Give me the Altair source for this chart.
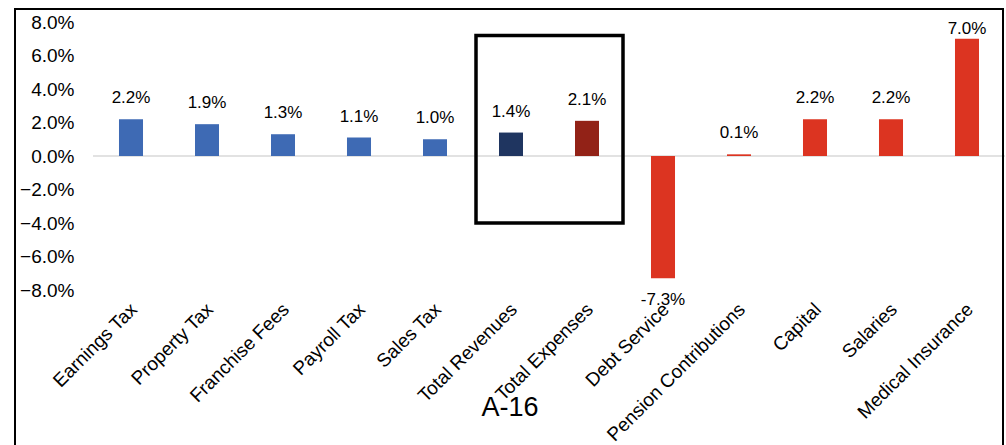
import altair as alt
import pandas as pd

# Year-over-year change by line item (percent)
categories = [
    "Earnings Tax", "Property Tax", "Franchise Fees", "Payroll Tax", "Sales Tax",
    "Total Revenues", "Total Expenses", "Debt Service", "Pension Contributions",
    "Capital", "Salaries", "Medical Insurance",
]
changes = [2.2, 1.9, 1.3, 1.1, 1.0, 1.4, 2.1, -7.3, 0.1, 2.2, 2.2, 7.0]
groups = (["Revenue"] * 5 + ["Total Revenues", "Total Expenses"] + ["Expense"] * 5)

group_names = ["Revenue", "Total Revenues", "Total Expenses", "Expense"]
group_colors = ["#3E6AB4", "#1F3560", "#922217", "#DC3421"]

y_ticks = [-8, -6, -4, -2, 0, 2, 4, 6, 8]

# Box around the two totals
box_categories = ["Total Revenues", "Total Expenses"]
box_range = [-4.0, 7.2]

page_label = "A-16"

FONT = "Liberation Sans"

df = pd.DataFrame({"category": categories, "change": changes, "group": groups})
df["label"] = [f"{v:.1f}%" for v in changes]

x_scale = alt.Scale(domain=categories, paddingInner=0.684, paddingOuter=0.342)
y_scale = alt.Scale(domain=[-8, 8], nice=False)

x_axis = alt.Axis(
    labelAngle=-45,
    labelAlign="right",
    labelBaseline="middle",
    labelFont=FONT,
    labelFontSize=19,
    labelColor="#000000",
    labelPadding=16,
    labelOffset=3,
    labelLimit=400,
    domain=False,
    ticks=False,
    grid=False,
)
y_axis = alt.Axis(
    values=y_ticks,
    labelExpr="format(datum.value, '.1f') + '%'",
    labelFont=FONT,
    labelFontSize=19,
    labelColor="#000000",
    labelPadding=19,
    domain=False,
    ticks=False,
    grid=False,
)

base = alt.Chart(df)

zero_line = alt.Chart(pd.DataFrame({"v": [0]})).mark_rule(
    color="#D9D9D9", strokeWidth=1.5
).encode(y=alt.Y("v:Q", scale=y_scale, axis=y_axis, title=None))

bars = base.mark_bar().encode(
    x=alt.X("category:N", scale=x_scale, title=None, axis=x_axis),
    y=alt.Y("change:Q", scale=y_scale, title=None, axis=y_axis),
    color=alt.Color(
        "group:N",
        scale=alt.Scale(domain=group_names, range=group_colors),
        legend=None,
    ),
)

labels = base.transform_calculate(
    label_pos="datum.change >= 0 ? min(datum.change + 1.25, 7.6) : datum.change - 1.3"
).mark_text(
    font=FONT, fontSize=17, color="#000000", baseline="middle", align="center"
).encode(
    x=alt.X("category:N", scale=x_scale, title=None, axis=x_axis),
    y=alt.Y("label_pos:Q", scale=y_scale, title=None, axis=y_axis),
    text="label:N",
)

# Outline spanning the two total columns, reaching out toward the band edges
box = alt.Chart(
    pd.DataFrame({
        "start": [box_categories[0]], "end": [box_categories[1]],
        "low": [box_range[0]], "high": [box_range[1]],
    })
).mark_rect(
    fillOpacity=0, stroke="#000000", strokeWidth=3.5, xOffset=-35, x2Offset=36
).encode(
    x=alt.X("start:N", scale=x_scale, bandPosition=0.5, title=None, axis=x_axis),
    x2=alt.X2("end:N", bandPosition=0.5),
    y=alt.Y("low:Q", scale=y_scale, title=None, axis=y_axis),
    y2="high:Q",
)

one_row = pd.DataFrame({"k": [0]})

frame = alt.Chart(one_row).mark_rect(
    fillOpacity=0, stroke="#000000", strokeWidth=2
).encode(
    x=alt.value(-78), x2=alt.value(910), y=alt.value(-13), y2=alt.value(440)
)

page = alt.Chart(one_row).mark_text(
    text=page_label, font=FONT, fontSize=27, color="#000000",
    align="center", baseline="alphabetic"
).encode(x=alt.value(417), y=alt.value(394))

chart = alt.layer(zero_line, bars, labels, box, frame, page).properties(
    width=912,
    height=268,
    padding={"left": 14, "top": 8, "right": 0, "bottom": 0},
).configure(background="#FFFFFF").configure_view(stroke=None)

chart.save("out.html", embed_options={"renderer": "svg", "actions": False})
